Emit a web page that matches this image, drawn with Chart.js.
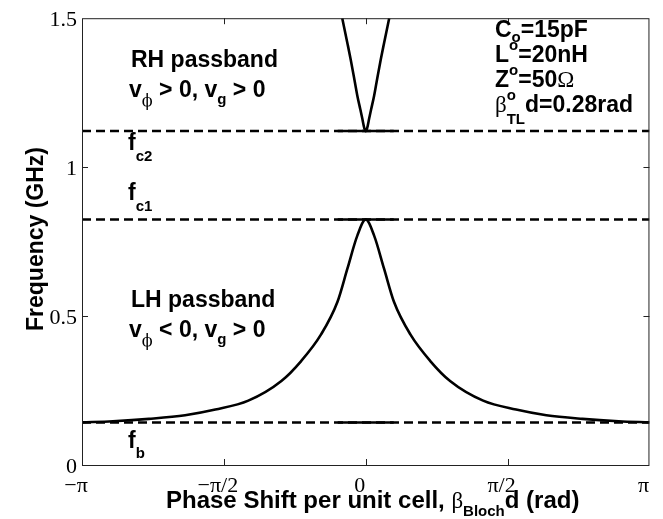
<!DOCTYPE html>
<html>
<head>
<meta charset="utf-8">
<script src="https://cdn.jsdelivr.net/npm/chart.js@4/dist/chart.umd.min.js"></script>
<style>
  html, body { margin: 0; padding: 0; background: #fff; }
  #wrap { width: 663px; height: 519px; }
</style>
</head>
<body>
<div id="wrap"><canvas id="chart" width="663" height="519"></canvas></div>
<script>
// Band edge frequencies (GHz)
const fb = 0.143;
const fc1 = 0.824;
const fc2 = 1.121;

// LH passband (phase in rad, frequency in GHz)
const lhPhase = [-3.1416, -2.8, -2.4, -2.0, -1.665, -1.3, -0.934, -0.715, -0.496, -0.3125, -0.203, -0.093, 0,
                 0.093, 0.203, 0.3125, 0.496, 0.715, 0.934, 1.3, 1.665, 2.0, 2.4, 2.8, 3.1416];
const lhFreq = [0.143, 0.147, 0.155, 0.167, 0.186, 0.216, 0.282, 0.349, 0.4375, 0.548, 0.659, 0.770, 0.824,
                0.770, 0.659, 0.548, 0.4375, 0.349, 0.282, 0.216, 0.186, 0.167, 0.155, 0.147, 0.143];

// RH passband
const rhPhase = [-0.26, -0.2, -0.167, -0.12, -0.093, -0.06, -0.038, -0.015, 0,
                 0.015, 0.038, 0.06, 0.093, 0.12, 0.167, 0.2, 0.26];
const rhFreq = [1.5, 1.412, 1.362, 1.285, 1.24, 1.194, 1.163, 1.13, 1.121,
                1.13, 1.163, 1.194, 1.24, 1.285, 1.362, 1.412, 1.5];

// solid piece in the middle of each band-edge line
const centerSpan = [-0.31, 0.31];

// axis ticks
const xTickValues = [-Math.PI, -Math.PI / 2, 0, Math.PI / 2, Math.PI];
const xTickLabels = ['\u2212\u03c0', '\u2212\u03c0/2', '0', '\u03c0/2', '\u03c0'];
const yTickValues = [0, 0.5, 1, 1.5];
const yTickLabels = ['0', '0.5', '1', '1.5'];

const BOLD = 'bold 23px "Liberation Sans", Arial, Helvetica, sans-serif';
const TITLE = 'bold 24px "Liberation Sans", Arial, Helvetica, sans-serif';
const SUB = 'bold 15px "Liberation Sans", Arial, Helvetica, sans-serif';
const SERIF = '23px "Liberation Serif", "DejaVu Serif", "Times New Roman", serif';
const SERIF_SUB = '16px "DejaVu Serif", "Liberation Serif", serif';

function pts(xs, ys) {
    return xs.map((x, i) => ({ x: x, y: ys[i] }));
}

function edgeLine(f) {
    return {
        data: [{ x: -Math.PI, y: f }, { x: Math.PI, y: f }],
        borderColor: '#000',
        borderWidth: 2.5,
        borderDash: [9, 5],
        pointRadius: 0,
        tension: 0
    };
}

function edgeSolid(f) {
    return {
        data: centerSpan.map(x => ({ x: x, y: f })),
        borderColor: '#000',
        borderWidth: 2.5,
        pointRadius: 0,
        tension: 0
    };
}

// draw a run of text pieces (for sub/superscripts)
function drawRich(ctx, x, y, parts) {
    parts.forEach(p => {
        ctx.font = p.font || BOLD;
        ctx.fillText(p.t, x, y + (p.dy || 0));
        if (!p.stack) x += ctx.measureText(p.t).width;
    });
}

const framePlugin = {
    id: 'frame',
    afterDatasetsDraw(chart) {
        const ctx = chart.ctx;
        const a = chart.chartArea;
        const xs = chart.scales.x, ys = chart.scales.y;
        ctx.save();
        ctx.strokeStyle = '#222';
        ctx.lineWidth = 1;
        ctx.strokeRect(a.left + 0.5, a.top + 0.5, a.right - a.left - 1, a.bottom - a.top);
        ctx.beginPath();
        xTickValues.slice(1, -1).forEach(v => {
            const px = Math.round(xs.getPixelForValue(v)) + 0.5;
            ctx.moveTo(px, a.bottom); ctx.lineTo(px, a.bottom - 6);
            ctx.moveTo(px, a.top); ctx.lineTo(px, a.top + 6);
        });
        yTickValues.slice(1, -1).forEach(v => {
            const py = Math.round(ys.getPixelForValue(v)) + 0.5;
            ctx.moveTo(a.left, py); ctx.lineTo(a.left + 6, py);
            ctx.moveTo(a.right, py); ctx.lineTo(a.right - 6, py);
        });
        ctx.stroke();
        ctx.restore();
    },
    afterDraw(chart) {
        const ctx = chart.ctx;
        ctx.save();
        ctx.fillStyle = '#000';
        ctx.textBaseline = 'alphabetic';
        ctx.textAlign = 'left';

        drawRich(ctx, 131, 67, [{ t: 'RH passband' }]);
        drawRich(ctx, 129, 97, [{ t: 'v' }, { t: '\u03d5', font: SERIF_SUB, dy: 9 }, { t: ' > 0, v' },
            { t: 'g', font: SUB, dy: 7 }, { t: ' > 0' }]);
        drawRich(ctx, 128, 150, [{ t: 'f' }, { t: 'c2', font: SUB, dy: 11 }]);
        drawRich(ctx, 128, 200, [{ t: 'f' }, { t: 'c1', font: SUB, dy: 11 }]);
        drawRich(ctx, 131, 307, [{ t: 'LH passband' }]);
        drawRich(ctx, 129, 337, [{ t: 'v' }, { t: '\u03d5', font: SERIF_SUB, dy: 9 }, { t: ' < 0, v' },
            { t: 'g', font: SUB, dy: 7 }, { t: ' > 0' }]);
        drawRich(ctx, 128, 448, [{ t: 'f' }, { t: 'b', font: SUB, dy: 10 }]);

        drawRich(ctx, 495, 37, [{ t: 'C' }, { t: 'o', font: SUB, dy: 5 }, { t: '=15pF' }]);
        drawRich(ctx, 495, 62, [{ t: 'L' }, { t: 'o', font: SUB, dy: -12 }, { t: '=20nH' }]);
        drawRich(ctx, 495, 87, [{ t: 'Z' }, { t: 'o', font: SUB, dy: -12 }, { t: '=50' }, { t: '\u03a9', font: SERIF }]);
        drawRich(ctx, 495, 112, [{ t: '\u03b2', font: SERIF }, { t: 'o', font: SUB, dy: -12, stack: true },
            { t: 'TL', font: SUB, dy: 12 }, { t: 'd=0.28rad' }]);

        // axis titles
        drawRich(ctx, 166, 508, [{ t: 'Phase Shift per unit cell, ', font: TITLE }, { t: '\u03b2', font: SERIF },
            { t: 'Bloch', font: SUB, dy: 8 }, { t: 'd (rad)', font: TITLE }]);
        ctx.translate(43, 239);
        ctx.rotate(-Math.PI / 2);
        ctx.textAlign = 'center';
        ctx.font = BOLD;
        ctx.fillText('Frequency (GHz)', 0, 0);
        ctx.restore();
    }
};

const curveStyle = {
    borderColor: '#000',
    borderWidth: 2.6,
    pointRadius: 0,
    cubicInterpolationMode: 'monotone'
};

new Chart(document.getElementById('chart'), {
    type: 'line',
    data: {
        datasets: [
            edgeLine(fb), edgeLine(fc1), edgeLine(fc2),
            edgeSolid(fb), edgeSolid(fc1), edgeSolid(fc2),
            { ...curveStyle, data: pts(lhPhase, lhFreq) },
            { ...curveStyle, data: pts(rhPhase, rhFreq) }
        ]
    },
    options: {
        responsive: false,
        animation: false,
        devicePixelRatio: 1,
        layout: { padding: { left: 0, right: 8, top: 13, bottom: 0 } },
        plugins: { legend: { display: false }, tooltip: { enabled: false } },
        scales: {
            x: {
                type: 'linear',
                min: -Math.PI,
                max: Math.PI,
                afterBuildTicks: s => { s.ticks = xTickValues.map(v => ({ value: v })); },
                afterFit: s => { s.height = 54; },
                grid: { display: false, drawTicks: false },
                border: { display: false },
                ticks: {
                    autoSkip: false,
                    maxRotation: 0,
                    padding: 8,
                    labelOffset: -6,
                    color: '#000',
                    font: { family: '"Liberation Serif", "Times New Roman", serif', size: 22 },
                    callback: (v, i) => xTickLabels[i]
                }
            },
            y: {
                type: 'linear',
                min: 0,
                max: 1.5,
                afterBuildTicks: s => { s.ticks = yTickValues.map(v => ({ value: v })); },
                afterFit: s => { s.width = 82; },
                grid: { display: false, drawTicks: false },
                border: { display: false },
                ticks: {
                    padding: 5,
                    labelOffset: 2,
                    color: '#000',
                    font: { family: '"Liberation Serif", "Times New Roman", serif', size: 22 },
                    callback: (v, i) => yTickLabels[i]
                }
            }
        }
    },
    plugins: [framePlugin]
});
</script>
</body>
</html>
